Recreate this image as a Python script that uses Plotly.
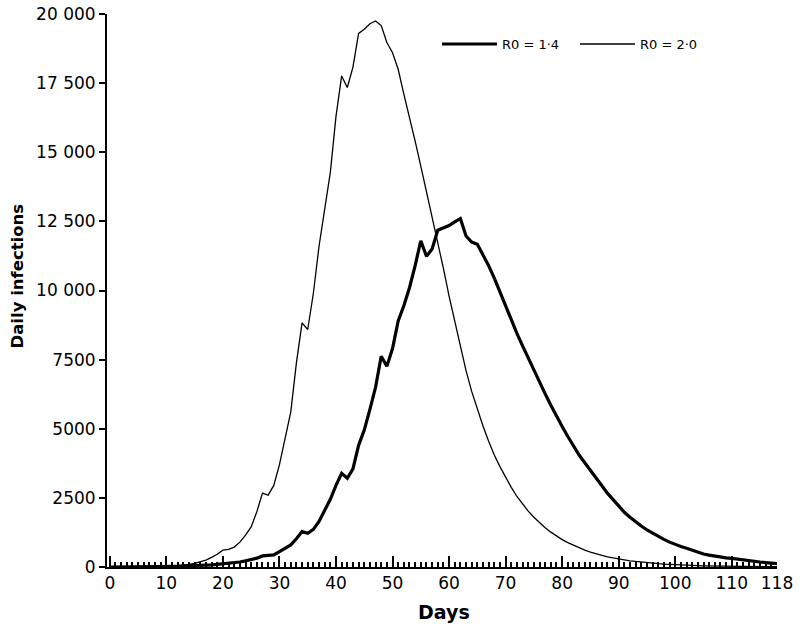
import plotly.graph_objects as go

days = list(range(0, 119))

r0_14 = [
    0, 0, 0, 5, 5, 5, 10, 10, 10, 12,
    15, 20, 25, 30, 35, 45, 55, 65, 80, 95,
    110, 130, 150, 180, 220, 260, 320, 400, 410, 440,
    560, 680, 800, 1020, 1280, 1220, 1360, 1650, 2050, 2450,
    2950, 3390, 3210, 3550, 4400, 4950, 5700, 6500, 7620, 7260,
    7900, 8900, 9450, 10100, 10900, 11800, 11240, 11500, 12180, 12250,
    12350, 12480, 12600, 11970, 11750, 11670, 11300, 10900, 10450, 9950,
    9400, 8950, 8450, 8000, 7550, 7100, 6680, 6260, 5850, 5450,
    5080, 4720, 4360, 4050, 3770, 3510, 3230, 2950, 2670, 2430,
    2200, 1980, 1800, 1630, 1480, 1340, 1220, 1100, 1000, 900,
    810, 740, 680, 600, 520, 470, 430, 390, 360, 330,
    310, 280, 250, 220, 200, 180, 160, 140, 120,
]

r0_20 = [
    0, 0, 0, 0, 0, 5, 5, 10, 10, 15,
    20, 30, 45, 60, 90, 130, 180, 250, 350, 460,
    610, 640, 720, 900, 1150, 1450, 2000, 2670, 2600, 2950,
    3700, 4600, 5600, 7380, 8830, 8590, 9900, 11600, 12900, 14270,
    16300, 17760, 17340, 18080, 19300, 19450, 19650, 19750, 19580, 18970,
    18600, 18000, 17100, 16300, 15400, 14500, 13600, 12700, 11800, 10800,
    9800, 8900, 8000, 7100, 6350, 5700, 5100, 4550, 4050, 3630,
    3250, 2880, 2550, 2270, 2020, 1800, 1600, 1420, 1260, 1120,
    990, 880, 780, 690, 610, 540, 480, 420, 370, 330,
    290, 255, 225, 200, 175, 155, 135, 120, 105, 92,
    80, 70, 62, 55, 48, 42, 37, 33, 29, 26,
    23, 20, 18, 16, 14, 12, 11, 10, 9,
]

x_tickvals = [0, 10, 20, 30, 40, 50, 60, 70, 80, 90, 100, 110, 118]
x_ticktext = [str(v) for v in x_tickvals]
y_tickvals = [0, 2500, 5000, 7500, 10000, 12500, 15000, 17500, 20000]
y_ticktext = ["0", "2500", "5000", "7500", "10 000", "12 500",
              "15 000", "17 500", "20 000"]

FONT = "DejaVu Sans"

fig = go.Figure()
fig.add_trace(go.Scatter(x=days, y=r0_14, mode="lines", name="R0 = 1\u00b74",
                         line=dict(color="black", width=3.2), legend="legend"))
fig.add_trace(go.Scatter(x=days, y=r0_20, mode="lines", name="R0 = 2\u00b70",
                         line=dict(color="black", width=1.3), legend="legend2"))

leg_common = dict(orientation="h", xanchor="left", yanchor="middle",
                  font=dict(family=FONT, size=13, color="black"),
                  bgcolor="rgba(0,0,0,0)", itemwidth=55)

fig.update_layout(
    width=800, height=633,
    margin=dict(l=107, r=23, t=14, b=66),
    paper_bgcolor="white", plot_bgcolor="white",
    font=dict(family=FONT, color="black", size=17),
    showlegend=True,
    legend=dict(x=0.4925, y=0.9457, **leg_common),
    legend2=dict(x=0.6985, y=0.9457, **leg_common),
    xaxis=dict(
        range=[-0.5, 118], showgrid=False, zeroline=False, automargin=False,
        showline=True, linecolor="black", linewidth=2,
        tickmode="array", tickvals=x_tickvals, ticktext=x_ticktext,
        ticks="inside", ticklen=11, tickwidth=2, tickcolor="black",
        tickfont=dict(family=FONT, size=17), ticklabeloverflow="allow",
        minor=dict(dtick=1, tick0=0, ticks="inside", ticklen=5, tickwidth=1.5,
                   tickcolor="black", showgrid=False),
    ),
    yaxis=dict(
        range=[0, 20000], showgrid=False, zeroline=False, automargin=False,
        showline=True, linecolor="black", linewidth=2,
        tickmode="array", tickvals=y_tickvals, ticktext=y_ticktext,
        ticks="outside", ticklen=6, tickwidth=2, tickcolor="black",
        tickfont=dict(family=FONT, size=17), ticklabeloverflow="allow",
    ),
    yaxis2=dict(
        range=[0, 20000], overlaying="y", anchor="x", side="left", automargin=False,
        showgrid=False, zeroline=False, showline=False,
        tickmode="array", tickvals=y_tickvals,
        ticks="inside", ticklen=11, tickwidth=2, tickcolor="black",
        showticklabels=False,
    ),
    annotations=[
        dict(text="<b>Daily infections</b>", xref="paper", yref="paper",
             x=-0.1343, y=0.5254, xanchor="center", yanchor="middle",
             textangle=-90, showarrow=False, font=dict(family=FONT, size=16.5)),
        dict(text="<b>Days</b>", xref="paper", yref="paper",
             x=0.503, y=-0.0815, xanchor="center", yanchor="middle",
             showarrow=False, font=dict(family=FONT, size=19)),
    ],
)

fig.write_html("out.html",
               config={"displayModeBar": False},
               post_script="document.body.style.margin='0';document.body.style.overflow='hidden';")
